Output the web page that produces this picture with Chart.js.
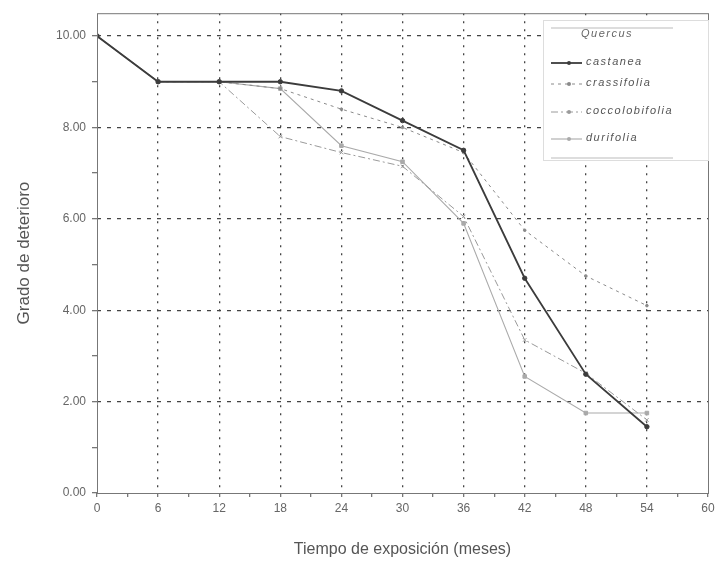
<!DOCTYPE html>
<html>
<head>
<meta charset="utf-8">
<script src="https://cdn.jsdelivr.net/npm/chart.js@4.4.1/dist/chart.umd.min.js"></script>
<style>
  html, body { margin: 0; padding: 0; background: #fff; }
  #wrap { width: 721px; height: 563px; }
</style>
</head>
<body>
<div id="wrap"><canvas id="chart" width="721" height="563"></canvas></div>
<script>
const months = [0, 6, 12, 18, 24, 30, 36, 42, 48, 54];
const castanea = [10, 9, 9, 9, 8.8, 8.15, 7.5, 4.7, 2.6, 1.45];
const crassifolia = [10, 9, 9, 8.85, 8.4, 8.0, 7.45, 5.75, 4.75, 4.1];
const coccolobifolia = [10, 9, 9, 7.8, 7.45, 7.15, 6.05, 3.35, 2.62, 1.6];
const durifolia = [10, 9, 9, 8.85, 7.6, 7.25, 5.9, 2.55, 1.75, 1.75];
const legendTitle = 'Quercus';

const toPoints = arr => arr.map((v, i) => ({ x: months[i], y: v }));

const series = [
    { label: 'castanea', data: castanea, color: '#3c3c3c', width: 1.8, dash: [], point: 'circle', radius: 2.2 },
    { label: 'crassifolia', data: crassifolia, color: '#8a8a8a', width: 1, dash: [3, 4], point: 'circle', radius: 1.3 },
    { label: 'coccolobifolia', data: coccolobifolia, color: '#9a9a9a', width: 1, dash: [7, 3, 2, 3], point: 'crossRot', radius: 2.5 },
    { label: 'durifolia', data: durifolia, color: '#aaaaaa', width: 1.1, dash: [], point: 'rect', radius: 2.5 }
];

// frame around the plot + boxed legend in the top right corner
const framePlugin = {
    id: 'frame',
    afterDatasetsDraw(chart) {
        const { ctx, chartArea: a } = chart;
        ctx.save();
        ctx.strokeStyle = '#777';
        ctx.lineWidth = 1;
        ctx.setLineDash([]);
        ctx.strokeRect(a.left + 0.5, a.top + 0.5, a.right - a.left, a.bottom - a.top);

        const bx = 543, by = 20, bw = 165, bh = 140;
        ctx.fillStyle = '#fff';
        ctx.fillRect(bx, by, bw, bh);
        ctx.strokeStyle = '#ddd';
        ctx.strokeRect(bx + 0.5, by + 0.5, bw, bh);
        ctx.strokeStyle = '#bbb';
        ctx.beginPath();
        ctx.moveTo(bx + 8, by + 8); ctx.lineTo(bx + 130, by + 8);
        ctx.moveTo(bx + 8, by + 138); ctx.lineTo(bx + 130, by + 138);
        ctx.stroke();

        ctx.fillStyle = '#666';
        ctx.font = 'italic 11px "Liberation Sans", Arial, sans-serif';
        ctx.textBaseline = 'middle';
        ctx.textAlign = 'center';
        ctx.letterSpacing = '1.5px';
        ctx.fillText(legendTitle, 607, 34);
        ctx.textAlign = 'left';
        const rows = [63, 84, 112, 139];
        series.forEach((s, i) => {
            const y = rows[i];
            ctx.strokeStyle = s.color;
            ctx.lineWidth = s.width;
            ctx.setLineDash(s.dash);
            ctx.beginPath();
            ctx.moveTo(551, y); ctx.lineTo(582, y);
            ctx.stroke();
            ctx.setLineDash([]);
            ctx.fillStyle = s.color;
            ctx.beginPath();
            ctx.arc(569, y, 2, 0, Math.PI * 2);
            ctx.fill();
            ctx.fillStyle = '#555';
            ctx.fillText(s.label, 586, y - 1);
        });
        ctx.restore();
    }
};

new Chart(document.getElementById('chart'), {
    type: 'line',
    data: {
        datasets: series.map(s => ({
            label: s.label,
            data: toPoints(s.data),
            borderColor: s.color,
            backgroundColor: s.color,
            borderWidth: s.width,
            borderDash: s.dash,
            pointStyle: s.point,
            pointRadius: s.radius,
            pointBorderWidth: 1,
            tension: 0,
            fill: false
        }))
    },
    options: {
        responsive: false,
        animation: false,
        layout: { padding: { top: 12, right: 13, left: 10, bottom: 0 } },
        plugins: { legend: { display: false }, tooltip: { enabled: false } },
        scales: {
            x: {
                type: 'linear',
                min: 0,
                max: 60,
                afterFit(scale) { scale.height = 70; },
                afterBuildTicks(scale) {
                    const t = [];
                    for (let v = 0; v <= 60; v += 3) t.push({ value: v });
                    scale.ticks = t;
                },
                ticks: {
                    autoSkip: false,
                    maxRotation: 0,
                    color: '#666',
                    padding: 4,
                    font: { size: 12, family: '"Liberation Sans", Arial, sans-serif' },
                    callback: v => (v % 6 === 0 ? String(v) : '')
                },
                grid: {
                    color: ctx => (ctx.tick && ctx.tick.value % 6 === 0 && ctx.tick.value > 0 && ctx.tick.value < 60 ? '#444' : 'rgba(0,0,0,0)'),
                    lineWidth: 1.3,
                    tickLength: 4,
                    tickColor: '#777',
                    tickBorderDash: []
                },
                border: { display: false, dash: [2, 6] },
                title: {
                    display: true,
                    text: 'Tiempo de exposición (meses)',
                    color: '#555',
                    font: { size: 16, family: '"Liberation Sans", Arial, sans-serif' },
                    padding: { top: 18 }
                }
            },
            y: {
                type: 'linear',
                min: 0,
                max: 10.5,
                afterFit(scale) { scale.width = 87; },
                afterBuildTicks(scale) {
                    const t = [];
                    for (let v = 0; v <= 10; v += 1) t.push({ value: v });
                    scale.ticks = t;
                },
                ticks: {
                    autoSkip: false,
                    color: '#666',
                    padding: 6,
                    font: { size: 12, family: '"Liberation Sans", Arial, sans-serif' },
                    callback: v => (v % 2 === 0 ? v.toFixed(2) : '')
                },
                grid: {
                    color: ctx => (ctx.tick && ctx.tick.value % 2 === 0 && ctx.tick.value > 0 ? '#444' : 'rgba(0,0,0,0)'),
                    lineWidth: 1.3,
                    tickLength: 5,
                    tickColor: '#777',
                    tickBorderDash: []
                },
                border: { display: false, dash: [4, 6] },
                title: {
                    display: true,
                    text: 'Grado de deterioro',
                    color: '#555',
                    font: { size: 17, family: '"Liberation Sans", Arial, sans-serif' },
                    padding: { bottom: 10 }
                }
            }
        }
    },
    plugins: [framePlugin]
});
</script>
</body>
</html>
